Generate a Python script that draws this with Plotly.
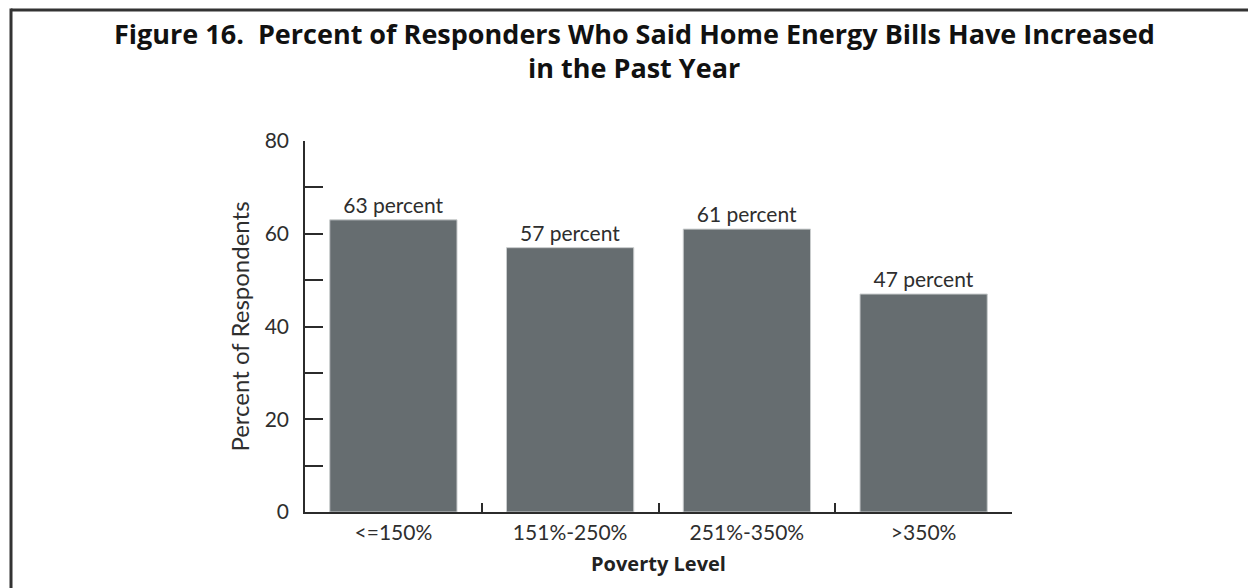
import plotly.graph_objects as go

# Survey results by poverty level
poverty_levels = ["<=150%", "151%-250%", "251%-350%", ">350%"]
pct_increased = [63, 57, 61, 47]
bar_labels = [f"{v} percent" for v in pct_increased]

title_lines = [
    "Figure 16.  Percent of Responders Who Said Home Energy Bills Have Increased",
    "in the Past Year",
]

BAR_COLOR = "#666d70"
AXIS_COLOR = "#2b2b2b"
TEXT_COLOR = "#2e2e2e"
FONT = "Lato, 'Open Sans', sans-serif"
BOLD_FONT = "'Open Sans', 'Noto Sans', sans-serif"

fig = go.Figure(
    go.Bar(
        x=poverty_levels,
        y=pct_increased,
        text=bar_labels,
        textposition="outside",
        textfont=dict(size=21, color=TEXT_COLOR, family=FONT),
        cliponaxis=False,
        marker=dict(color=BAR_COLOR, line=dict(color="#c9cccd", width=1)),
        hoverinfo="x+y",
    )
)

# plot area in pixels: x 305..1012, y 141..512
W, H = 1248, 588
L, R, T, B = 305, 236, 141, 76
pw, ph = W - L - R, H - T - B


def px_x(x):
    return (x - L) / pw


def px_y(y):
    return (H - B - y) / ph


fig.update_layout(
    width=W,
    height=H,
    margin=dict(l=L, r=R, t=T, b=B),
    paper_bgcolor="white",
    plot_bgcolor="white",
    showlegend=False,
    bargap=0.28,
    font=dict(family=FONT, color=TEXT_COLOR, size=21),
    xaxis=dict(
        showline=True,
        linecolor=AXIS_COLOR,
        linewidth=1.5,
        tickson="boundaries",
        ticks="inside",
        ticklen=9,
        tickcolor=AXIS_COLOR,
        tickwidth=1.5,
        tickfont=dict(size=21, family=FONT, color=TEXT_COLOR),
        ticklabelstandoff=1,
        showgrid=False,
        title=dict(
            text="<b>Poverty Level</b>",
            font=dict(size=20, family=BOLD_FONT, color="#222222"),
            standoff=14,
        ),
    ),
    yaxis=dict(
        range=[0, 80],
        dtick=20,
        showline=True,
        linecolor=AXIS_COLOR,
        linewidth=1.5,
        ticks="inside",
        ticklen=18,
        tickcolor=AXIS_COLOR,
        tickwidth=1.5,
        tickfont=dict(size=21, family=FONT, color=TEXT_COLOR),
        ticklabelstandoff=10,
        showgrid=False,
        zeroline=False,
        minor=dict(dtick=10, ticks="inside", ticklen=18, tickcolor=AXIS_COLOR,
                   tickwidth=1.5, showgrid=False),
        title=dict(
            text="Percent of Respondents",
            font=dict(size=24, family=FONT, color=TEXT_COLOR),
            standoff=8,
        ),
    ),
)

# two-line heading, centred over the page
for line, y_pix in zip(title_lines, [34, 67]):
    fig.add_annotation(
        text=f"<b>{line}</b>",
        xref="paper", yref="paper",
        x=px_x(634), y=px_y(y_pix),
        xanchor="center", yanchor="middle",
        showarrow=False,
        font=dict(family=BOLD_FONT, size=27, color="#111111"),
    )

# frame around the figure: top rule and left rule
frame = dict(color="#333333", width=3)
fig.add_shape(type="line", xref="paper", yref="paper",
              x0=px_x(11), x1=px_x(W + 5), y0=px_y(10), y1=px_y(10), line=frame)
fig.add_shape(type="line", xref="paper", yref="paper",
              x0=px_x(11), x1=px_x(11), y0=px_y(8.5), y1=px_y(H + 5), line=frame)

fig.write_html("out.html")
